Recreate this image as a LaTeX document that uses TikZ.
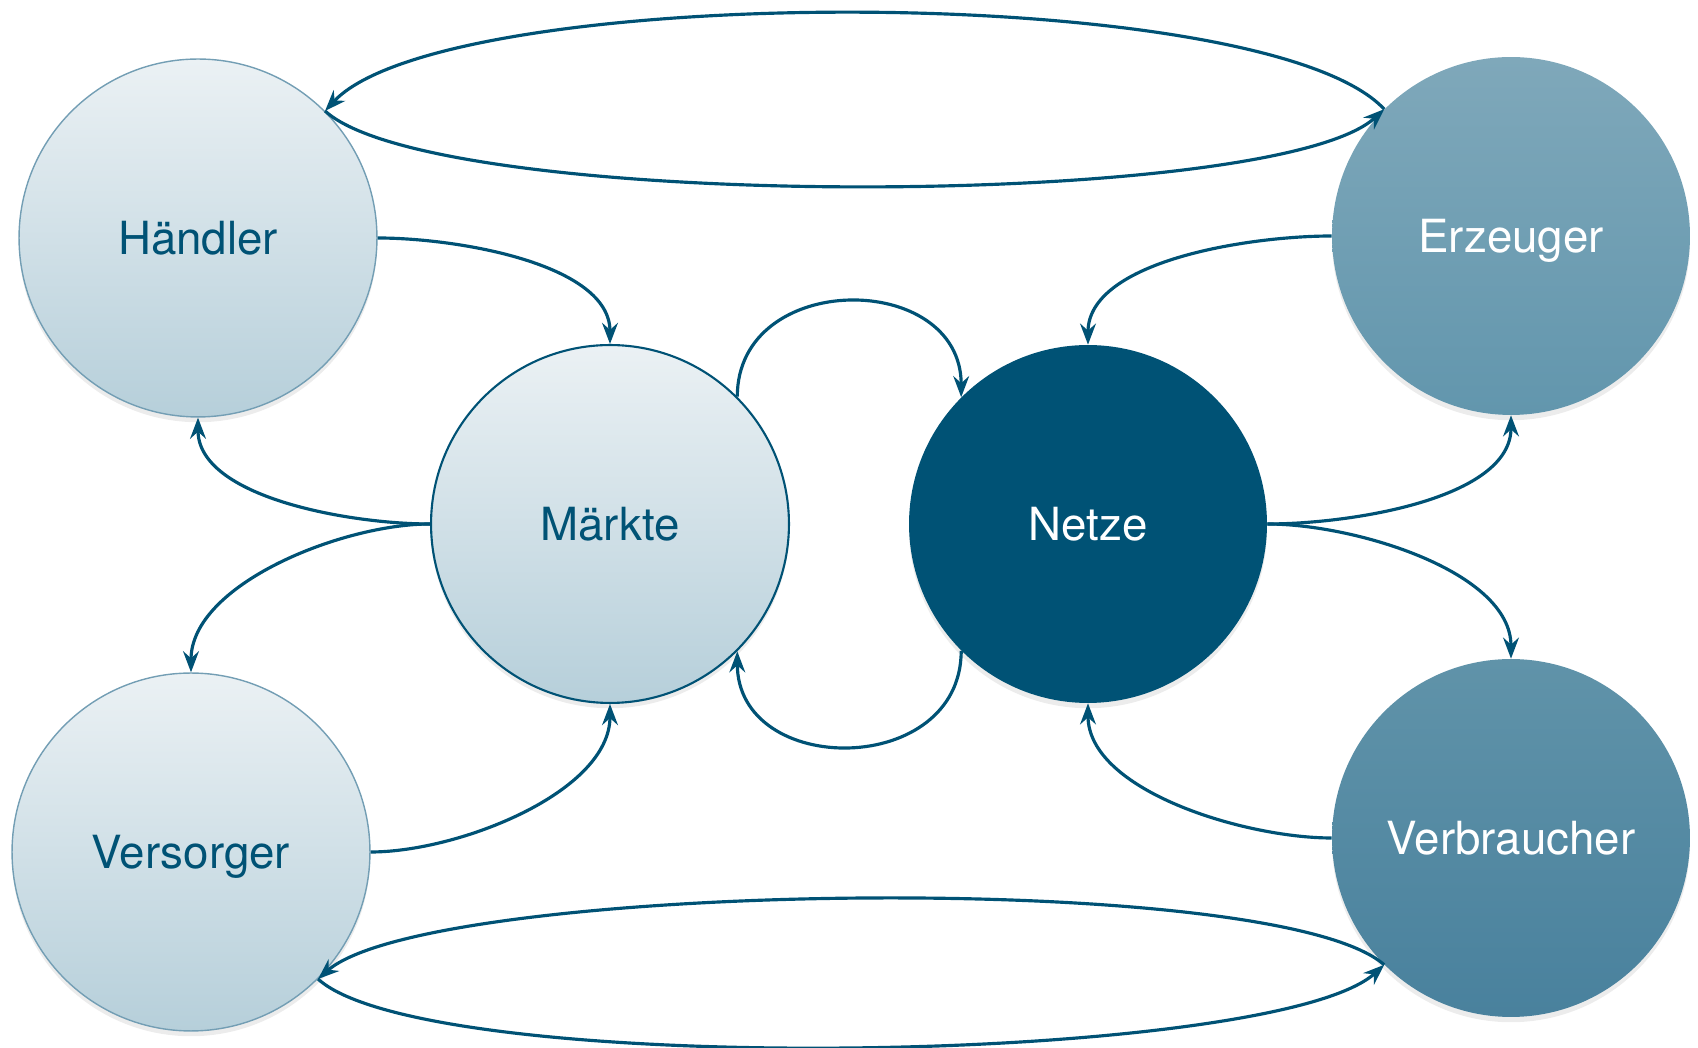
\documentclass[tikz,border=0pt]{standalone}
\usepackage{fontspec}
\setmainfont{TeX Gyre Heros}
\usetikzlibrary{arrows.meta,shadows}

\definecolor{netzblau}{RGB}{0,82,117}
\definecolor{hellblau}{RGB}{235,241,244}
\definecolor{graublau}{RGB}{182,207,218}
\definecolor{randblau}{RGB}{115,158,180}
\definecolor{erzoben}{RGB}{127,168,186}
\definecolor{erzunten}{RGB}{98,150,173}
\definecolor{verbroben}{RGB}{96,147,169}
\definecolor{verbrunten}{RGB}{73,129,157}

\begin{document}
\begin{tikzpicture}[x=0.02cm, y=0.02cm,
	akteur/.style={circle, minimum size=7.16cm, inner sep=0pt, text depth=0pt, font=\fontsize{26}{30}\selectfont,
		drop shadow={opacity=0.15, shadow xshift=0pt, shadow yshift=-3pt}},
	hell/.style={akteur, top color=hellblau, bottom color=graublau, draw=randblau, line width=0.8pt, text=netzblau},
	fluss/.style={draw=netzblau, line width=1.8pt, -{Stealth[length=12pt, width=9pt, inset=4pt]}},
	bogen/.style={fluss, looseness=0.8}]

	\useasboundingbox (0,0) rectangle (1698,1048);

	\draw ( 198, 810) node[hell] (haendler) {Händler};
	\draw ( 610, 524) node[hell, draw=netzblau, line width=1.2pt] (maerkte) {Märkte};
	\draw (1088, 524) node[akteur, fill=netzblau, text=white] (netze) {Netze};
	\draw (1511, 812) node[akteur, top color=erzoben, bottom color=erzunten, text=white] (erzeuger) {Erzeuger};
	\draw (1511, 210) node[akteur, top color=verbroben, bottom color=verbrunten, text=white] (verbraucher) {Verbraucher};
	\draw ( 191, 196) node[hell] (versorger) {Versorger};

	\draw[fluss] (erzeuger.135) .. controls +(-120,129) and +(120,129) .. (haendler.45);
	\draw[fluss] (haendler.45) .. controls +(110,-101) and +(-110,-101) .. (erzeuger.135);
	\draw[fluss] (verbraucher.-135) .. controls +(-110,97) and +(110,97) .. (versorger.-45);
	\draw[fluss] (versorger.-45) .. controls +(110,-100) and +(-110,-100) .. (verbraucher.-135);

	\draw[bogen] (haendler.east) to[out=0, in=90] (maerkte.north);
	\draw[bogen] (maerkte.west) to[out=180, in=-90] (haendler.south);
	\draw[bogen] (maerkte.west) to[out=180, in=90] (versorger.north);
	\draw[bogen] (versorger.east) to[out=0, in=-90] (maerkte.south);

	\draw[fluss] (maerkte.45) to[out=90, in=90, looseness=1.45] (netze.135);
	\draw[fluss] (netze.-135) to[out=-90, in=-90, looseness=1.45] (maerkte.-45);

	\draw[bogen] (erzeuger.west) to[out=180, in=90] (netze.north);
	\draw[bogen] (netze.east) to[out=0, in=-90] (erzeuger.south);
	\draw[bogen] (netze.east) to[out=0, in=90] (verbraucher.north);
	\draw[bogen] (verbraucher.west) to[out=180, in=-90] (netze.south);
\end{tikzpicture}
\end{document}
